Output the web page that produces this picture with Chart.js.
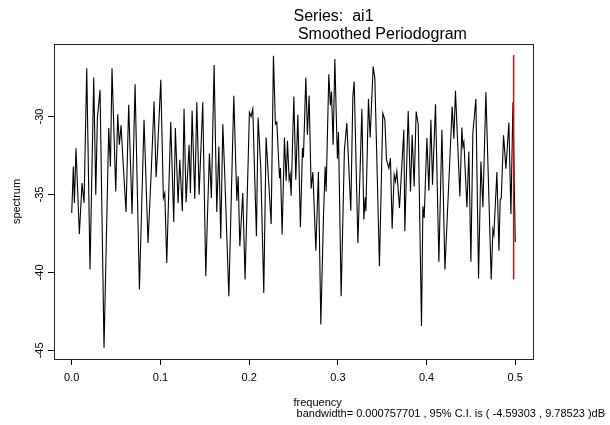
<!DOCTYPE html>
<html>
<head>
<meta charset="utf-8">
<script src="https://cdn.jsdelivr.net/npm/chart.js@4.4.1/dist/chart.umd.min.js"></script>
<style>
  html, body { margin: 0; padding: 0; background: #fff; }
  canvas { display: block; }
</style>
</head>
<body>
<canvas id="specChart" width="610" height="425"></canvas>
<script>
// Smoothed periodogram values (frequency, spectrum in dB)
const freq = [
  0.000, 0.0018, 0.0030, 0.0048, 0.0086, 0.0116, 0.0139, 0.0169, 0.0206, 0.0248,
  0.0271, 0.0289, 0.0319, 0.0364, 0.0417, 0.0436, 0.0454, 0.0496, 0.0518, 0.0537,
  0.0556, 0.0575, 0.0612, 0.0642, 0.0680, 0.0714, 0.0763, 0.0815, 0.0860, 0.0898,
  0.0928, 0.0951, 0.0966, 0.1004, 0.1033, 0.1049, 0.1071, 0.1116, 0.1150, 0.1168,
  0.1199, 0.1218, 0.1247, 0.1266, 0.1289, 0.1323, 0.1338, 0.1357, 0.1387, 0.1410,
  0.1436, 0.1477, 0.1511, 0.1529, 0.1552, 0.1574, 0.1605, 0.1635, 0.1658, 0.1680,
  0.1703, 0.1725, 0.1771, 0.1827, 0.1861, 0.1876, 0.1895, 0.1928, 0.1954, 0.2003,
  0.2022, 0.2041, 0.2082, 0.2101, 0.2131, 0.2165, 0.2191, 0.2248, 0.2274, 0.2296,
  0.2312, 0.2342, 0.2353, 0.2372, 0.2398, 0.2417, 0.2432, 0.2451, 0.2462, 0.2473,
  0.2504, 0.2526, 0.2549, 0.2578, 0.2601, 0.2612, 0.2639, 0.2657, 0.2676, 0.2699,
  0.2718, 0.2752, 0.2781, 0.2808, 0.2838, 0.2857, 0.2868, 0.2898, 0.2916, 0.2928,
  0.2947, 0.2966, 0.2995, 0.3007, 0.3037, 0.3074, 0.3101, 0.3146, 0.3169, 0.3184,
  0.3226, 0.3271, 0.3293, 0.3308, 0.3316, 0.3345, 0.3364, 0.3398, 0.3417, 0.3469,
  0.3507, 0.3530, 0.3548, 0.3575, 0.3593, 0.3612, 0.3635, 0.3650, 0.3665, 0.3695,
  0.3744, 0.3755, 0.3793, 0.3819, 0.3838, 0.3860, 0.3883, 0.3906, 0.3943, 0.3959,
  0.3973, 0.4004, 0.4026, 0.4049, 0.4067, 0.4101, 0.4139, 0.4173, 0.4207, 0.4289,
  0.4308, 0.4326, 0.4376, 0.4398, 0.4410, 0.4421, 0.4455, 0.4477, 0.4500, 0.4522,
  0.4556, 0.4586, 0.4613, 0.4635, 0.4669, 0.4729, 0.4748, 0.4759, 0.4793, 0.4816,
  0.4830, 0.4842, 0.4868, 0.4895, 0.4928, 0.4951, 0.4974, 0.5000
];
const spectrum = [
  -36.19, -33.20, -35.55, -32.03, -37.53, -34.27, -35.55, -26.90, -39.81, -27.50,
  -35.01, -30.10, -28.29, -44.83, -30.74, -33.20, -26.90, -34.80, -29.85, -31.81,
  -30.57, -32.56, -36.12, -29.25, -36.25, -27.93, -41.09, -30.21, -38.11, -33.31,
  -29.04, -33.90, -32.35, -27.65, -35.23, -34.91, -39.39, -30.36, -36.76, -30.74,
  -35.55, -32.77, -36.08, -29.51, -35.50, -31.81, -34.91, -29.63, -35.27, -29.08,
  -35.01, -29.08, -40.24, -36.61, -32.35, -35.23, -26.69, -36.12, -31.92, -37.83,
  -30.49, -33.73, -41.52, -28.67, -35.40, -33.84, -38.32, -34.91, -40.45, -29.72,
  -30.00, -29.51, -37.68, -30.06, -33.31, -41.31, -31.34, -36.89, -26.11, -30.49,
  -30.36, -33.95, -33.31, -37.57, -31.34, -34.12, -31.56, -34.05, -33.73, -35.08,
  -28.72, -34.05, -29.89, -37.10, -32.03, -32.62, -27.50, -31.17, -28.65, -34.63,
  -33.56, -38.60, -33.56, -43.34, -36.40, -33.20, -34.80, -27.29, -29.29, -28.40,
  -31.81, -26.31, -32.71, -31.00, -41.52, -32.13, -30.42, -36.04, -28.72, -27.76,
  -38.11, -29.51, -36.61, -35.18, -36.08, -28.87, -31.34, -26.80, -27.54, -39.60,
  -29.78, -30.21, -32.77, -33.31, -32.67, -37.19, -33.73, -34.16, -33.52, -35.87,
  -30.85, -37.36, -29.64, -34.80, -31.17, -34.48, -29.68, -30.53, -43.44, -35.76,
  -36.51, -31.38, -34.76, -30.21, -34.37, -29.21, -39.32, -30.85, -39.81, -29.36,
  -31.43, -28.35, -35.12, -30.70, -31.92, -31.64, -35.82, -32.24, -39.32, -31.06,
  -28.87, -40.39, -32.88, -35.82, -28.44, -40.45, -37.25, -37.57, -33.56, -38.60,
  -35.33, -35.23, -31.21, -33.35, -30.38, -36.25, -29.08, -38.04
];

// Confidence interval bar (red)
const ciFreq = [0.4982, 0.4982];
const ciValues = [-40.44, -26.06];

// Axis ticks
const xTicks = [0.0, 0.1, 0.2, 0.3, 0.4, 0.5];
const yTicks = [-45, -40, -35, -30];

const FONT = '"Liberation Sans", Arial, Helvetica, sans-serif';

// Box, rotated y labels and the R-style texts
const rDecor = {
  id: 'rDecor',
  afterDraw(chart) {
    const ctx = chart.ctx;
    const a = chart.chartArea;
    const yScale = chart.scales.y;
    ctx.save();
    ctx.strokeStyle = '#222';
    ctx.lineWidth = 1;
    ctx.strokeRect(a.left + 0.5, a.top + 0.5, a.right - a.left, a.bottom - a.top);

    ctx.fillStyle = '#000';
    ctx.font = '11px ' + FONT;
    ctx.textAlign = 'center';
    ctx.textBaseline = 'middle';
    yTicks.forEach(v => {
      ctx.save();
      ctx.translate(40, yScale.getPixelForValue(v));
      ctx.rotate(-Math.PI / 2);
      ctx.fillText(String(v), 0, 0);
      ctx.restore();
    });
    ctx.save();
    ctx.translate(17, (a.top + a.bottom) / 2);
    ctx.rotate(-Math.PI / 2);
    ctx.fillText('spectrum', 0, 0);
    ctx.restore();

    // R left-justifies these at the plot centre
    const mid = (a.left + a.right) / 2;
    ctx.textAlign = 'left';
    ctx.textBaseline = 'alphabetic';
    ctx.font = '16px ' + FONT;
    ctx.fillText('Series:  ai1', mid, 21);
    ctx.fillText(' Smoothed Periodogram', mid, 39);
    ctx.font = '11px ' + FONT;
    ctx.fillText('frequency', mid, 406);
    ctx.fillText(' bandwidth= 0.000757701 , 95% C.I. is ( -4.59303 , 9.78523 )dB', mid, 416.5);
    ctx.restore();
  }
};

const ctx = document.getElementById('specChart').getContext('2d');
const specChart = new Chart(ctx, {
  type: 'line',
  data: {
    datasets: [{
      label: 'CI',
      data: ciFreq.map((f, i) => ({ x: f, y: ciValues[i] })),
      borderColor: 'rgb(230, 0, 0)',
      borderWidth: 1.4,
      pointRadius: 0,
      fill: false
    }, {
      label: 'spectrum',
      data: freq.map((f, i) => ({ x: f, y: spectrum[i] })),
      borderColor: '#000',
      borderWidth: 1.1,
      pointRadius: 0,
      tension: 0,
      fill: false
    }]
  },
  options: {
    responsive: false,
    animation: false,
    layout: { padding: { top: 44, right: 77, left: 0, bottom: 0 } },
    plugins: { legend: { display: false }, tooltip: { enabled: false }, title: { display: false } },
    scales: {
      x: {
        type: 'linear',
        min: -0.02,
        max: 0.52,
        afterBuildTicks: scale => { scale.ticks = xTicks.map(v => ({ value: v })); },
        afterFit: scale => { scale.height = 66; },
        border: { display: false },
        grid: { drawOnChartArea: false, drawTicks: true, tickLength: 6, color: '#000' },
        ticks: {
          color: '#000',
          padding: 6,
          maxRotation: 0,
          font: { family: FONT, size: 11 },
          callback: v => v.toFixed(1)
        }
      },
      y: {
        type: 'linear',
        min: -45.55,
        max: -25.35,
        afterBuildTicks: scale => { scale.ticks = yTicks.map(v => ({ value: v })); },
        afterFit: scale => { scale.width = 54; },
        border: { display: false },
        grid: { drawOnChartArea: false, drawTicks: true, tickLength: 6, color: '#000' },
        ticks: { display: false }
      }
    }
  },
  plugins: [rDecor]
});
</script>
</body>
</html>
